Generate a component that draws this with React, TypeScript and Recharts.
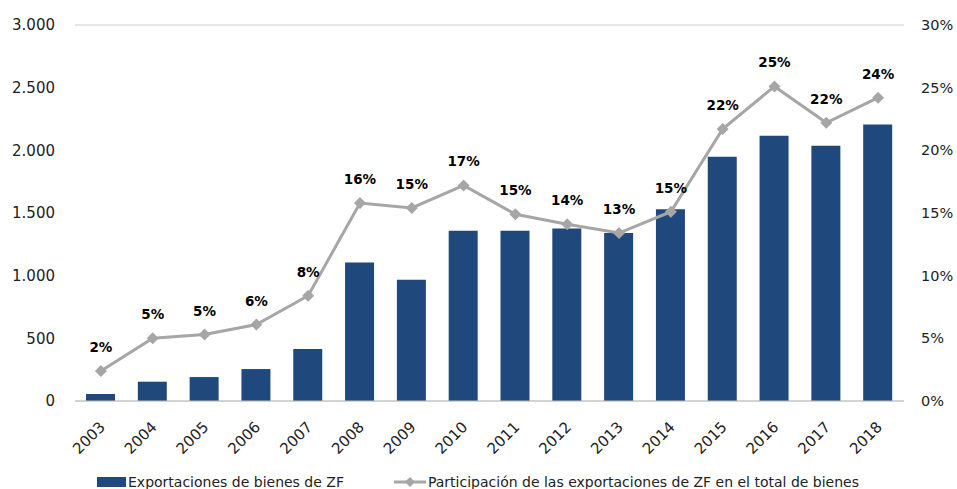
import React from 'react';
import {
  ComposedChart,
  Bar,
  Line,
  XAxis,
  YAxis,
  CartesianGrid,
  Legend,
  LabelList,
} from 'recharts';

const years = ['2003', '2004', '2005', '2006', '2007', '2008', '2009', '2010', '2011', '2012', '2013', '2014', '2015', '2016', '2017', '2018'];
const exports = [56, 154, 191, 255, 415, 1106, 967, 1358, 1358, 1377, 1340, 1529, 1948, 2116, 2036, 2207];
const share = [2.4, 5.0, 5.3, 6.1, 8.4, 15.8, 15.4, 17.2, 14.9, 14.1, 13.4, 15.1, 21.7, 25.1, 22.2, 24.2];
const leftTicks = [0, 500, 1000, 1500, 2000, 2500, 3000];
const rightTicks = [0, 5, 10, 15, 20, 25, 30];
const barName = 'Exportaciones de bienes de ZF';
const lineName = 'Participación de las exportaciones de ZF en el total de bienes';

const data = years.map((y, i) => ({ year: y, exports: exports[i], share: share[i] }));

const FONT = '"DejaVu Sans", sans-serif';
const BLUE = '#1f497d';
const GREY = '#a6a6a6';

const Diamond = (props: any) => {
  const { cx, cy } = props;
  if (cx == null || cy == null) return null;
  const r = 6;
  return <polygon points={`${cx},${cy - r} ${cx + r},${cy} ${cx},${cy + r} ${cx - r},${cy}`} fill={GREY} />;
};

const YearTick = (props: any) => {
  const { x, y, payload } = props;
  return (
    <text
      x={x + 5}
      y={y + 19}
      transform={`rotate(-45, ${x + 5}, ${y + 19})`}
      textAnchor="end"
      fontFamily={FONT}
      fontSize={15}
      fill="#222"
    >
      {payload.value}
    </text>
  );
};

const PctLabel = (props: any) => {
  const { x, y, value } = props;
  return (
    <text x={x} y={y - 24} textAnchor="middle" dominantBaseline="central" fontFamily={FONT} fontSize={13.5} fontWeight="bold" fill="#000">
      {Math.round(value)}%
    </text>
  );
};

const LegendBox = () => (
  <div style={{ display: 'flex', alignItems: 'center', fontFamily: FONT, fontSize: 14, color: '#222', paddingLeft: 97, height: 20 }}>
    <span style={{ display: 'inline-block', width: 29, height: 10, background: BLUE, marginRight: 2 }} />
    <span>{barName}</span>
    <svg width={32} height={14} style={{ marginLeft: 50, marginRight: 2 }}>
      <line x1={0} y1={7} x2={32} y2={7} stroke={GREY} strokeWidth={3} />
      <polygon points="16,2 21,7 16,12 11,7" fill={GREY} />
    </svg>
    <span>{lineName}</span>
  </div>
);

export default function App() {
  return (
    <div style={{ position: 'absolute', left: 0, top: 0, background: '#fff' }}>
      <ComposedChart width={957} height={489} data={data} margin={{ top: 25, right: 0, left: 0, bottom: 0 }}>
        <CartesianGrid vertical={false} stroke="#cfcfcf" />
        <XAxis
          dataKey="year"
          tick={<YearTick />}
          tickLine={false}
          axisLine={{ stroke: '#bfbfbf' }}
          height={55}
          interval={0}
        />
        <YAxis
          yAxisId="left"
          domain={[0, 3000]}
          ticks={leftTicks}
          width={75}
          axisLine={false}
          tickLine={false}
          tickFormatter={(v: number) => v.toLocaleString('de-DE')}
          tick={{ fontFamily: FONT, fontSize: 15, fill: '#222', dx: -12 }}
        />
        <YAxis
          yAxisId="right"
          orientation="right"
          domain={[0, 30]}
          ticks={rightTicks}
          width={53}
          axisLine={false}
          tickLine={false}
          tickFormatter={(v: number) => `${v}%`}
          tick={{ fontFamily: FONT, fontSize: 14.5, fill: '#222', dx: 9 }}
        />
        <Legend height={33} content={<LegendBox />} wrapperStyle={{ bottom: 0, top: 472, left: 0 }} />
        <Bar yAxisId="left" dataKey="exports" name={barName} fill={BLUE} barSize={29} isAnimationActive={false} />
        <Line
          yAxisId="right"
          dataKey="share"
          name={lineName}
          stroke={GREY}
          strokeWidth={3}
          dot={<Diamond />}
          activeDot={false}
          isAnimationActive={false}
        >
          <LabelList dataKey="share" content={<PctLabel />} />
        </Line>
      </ComposedChart>
    </div>
  );
}
